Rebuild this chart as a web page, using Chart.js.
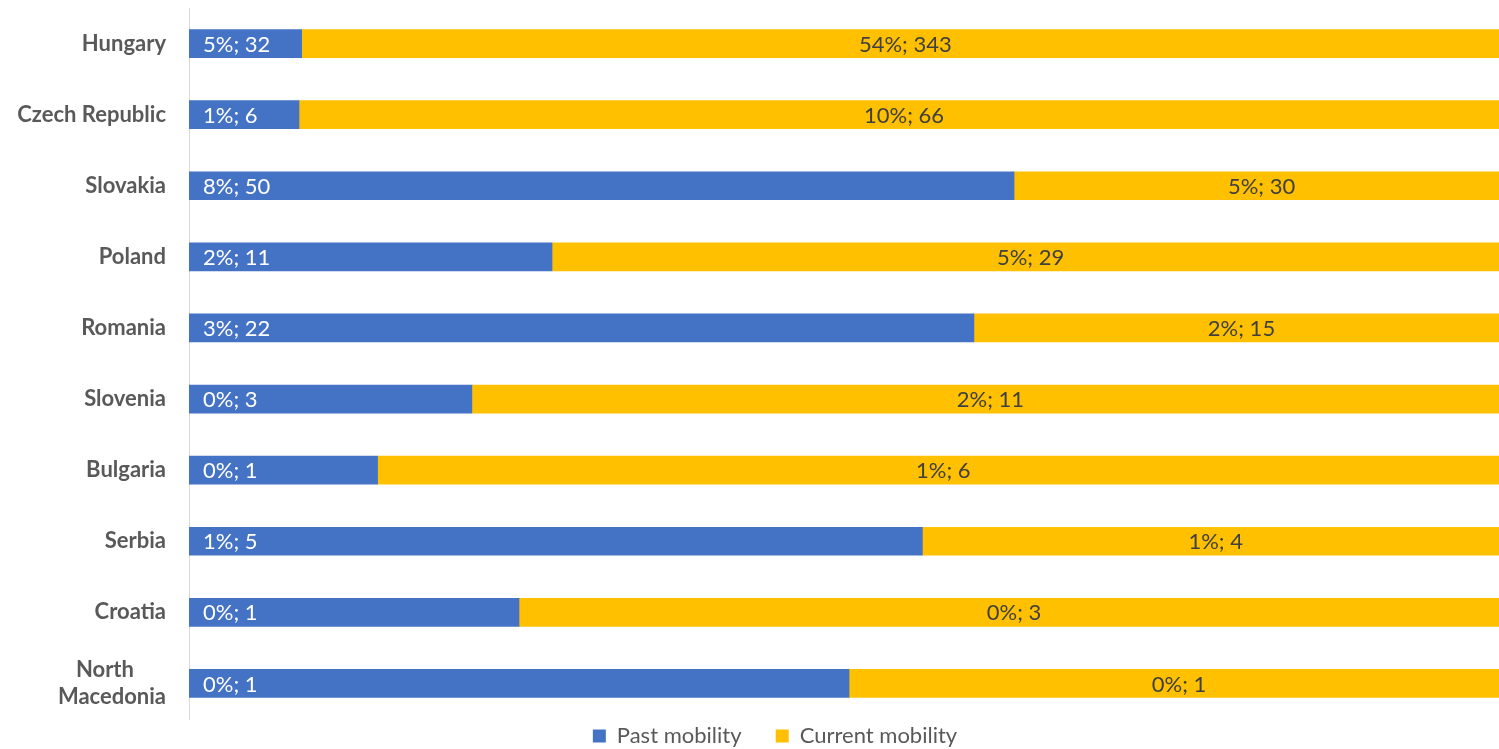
<!DOCTYPE html>
<html>
<head>
<meta charset="utf-8">
<script src="https://cdn.jsdelivr.net/npm/chart.js@4"></script>
<style>
    html, body { margin: 0; padding: 0; background: #fff; overflow: hidden; }
    #wrap { width: 1499px; height: 749px; overflow: hidden; }
</style>
</head>
<body>
<div id="wrap"><canvas id="mobilityChart" width="1550" height="757"></canvas></div>
<script>
const countries = ['Hungary', 'Czech Republic', 'Slovakia', 'Poland', 'Romania', 'Slovenia', 'Bulgaria', 'Serbia', 'Croatia', ['North      ', 'Macedonia']];
const pastCount = [32, 6, 50, 11, 22, 3, 1, 5, 1, 1];
const currentCount = [343, 66, 30, 29, 15, 11, 6, 4, 3, 1];
const pastPct = ['5%', '1%', '8%', '2%', '3%', '0%', '0%', '1%', '0%', '0%'];
const currentPct = ['54%', '10%', '5%', '5%', '2%', '2%', '1%', '1%', '0%', '0%'];

document.addEventListener("DOMContentLoaded", function () {
    const fontFamily = 'Lato, "Open Sans", sans-serif';

    // share of each row (100% stacked bars)
    const pastShare = pastCount.map((v, i) => v / (v + currentCount[i]));
    const currentShare = currentCount.map((v, i) => v / (pastCount[i] + v));

    const barLabels = {
        id: 'barLabels',
        afterDatasetsDraw(chart) {
            const ctx = chart.ctx;
            ctx.save();
            ctx.font = '22px ' + fontFamily;
            ctx.textBaseline = 'middle';
            chart.data.datasets.forEach((ds, di) => {
                const meta = chart.getDatasetMeta(di);
                meta.data.forEach((bar, i) => {
                    if (di === 0) {
                        ctx.fillStyle = '#ffffff';
                        ctx.textAlign = 'left';
                        ctx.fillText(pastPct[i] + '; ' + pastCount[i], bar.base + 14, bar.y + 1);
                    } else {
                        ctx.fillStyle = '#404040';
                        ctx.textAlign = 'center';
                        ctx.fillText(currentPct[i] + '; ' + currentCount[i], (bar.base + bar.x) / 2, bar.y + 1);
                    }
                });
            });
            ctx.restore();
        }
    };

    const ctx = document.getElementById('mobilityChart').getContext('2d');
    new Chart(ctx, {
        type: 'bar',
        data: {
            labels: countries,
            datasets: [{
                label: 'Past mobility',
                data: pastShare,
                backgroundColor: '#4472C4',
                barThickness: 28
            }, {
                label: 'Current mobility',
                data: currentShare,
                backgroundColor: '#FFC000',
                barThickness: 28
            }]
        },
        options: {
            indexAxis: 'y',
            responsive: false,
            animation: false,
            devicePixelRatio: 1,
            layout: {
                padding: { top: 8, right: 0, bottom: 0, left: 0 }
            },
            scales: {
                x: {
                    stacked: true,
                    min: 0,
                    // the original frame is cut just before the bars end
                    max: 1.031,
                    display: false
                },
                y: {
                    stacked: true,
                    grid: { display: false, drawTicks: false },
                    border: { display: true, color: '#d9d9d9', width: 1 },
                    ticks: {
                        color: '#595959',
                        padding: 23,
                        font: { family: fontFamily, size: 22, weight: 'bold', lineHeight: 1.25 }
                    },
                    afterFit: function (scale) {
                        scale.width = 189;
                        scale.paddingTop = 0;
                        scale.paddingBottom = 0;
                    }
                }
            },
            plugins: {
                legend: {
                    position: 'bottom',
                    labels: {
                        boxWidth: 13,
                        boxHeight: 13,
                        padding: 6,
                        color: '#595959',
                        font: { family: fontFamily, size: 22 },
                        generateLabels: function (chart) {
                            const original = Chart.defaults.plugins.legend.labels.generateLabels;
                            const labels = original.call(this, chart);
                            labels[0].text = labels[0].text + '     ';
                            labels.forEach(label => { label.lineWidth = 0; });
                            return labels;
                        }
                    }
                },
                tooltip: { enabled: false }
            }
        },
        plugins: [barLabels]
    });
});
</script>
</body>
</html>
